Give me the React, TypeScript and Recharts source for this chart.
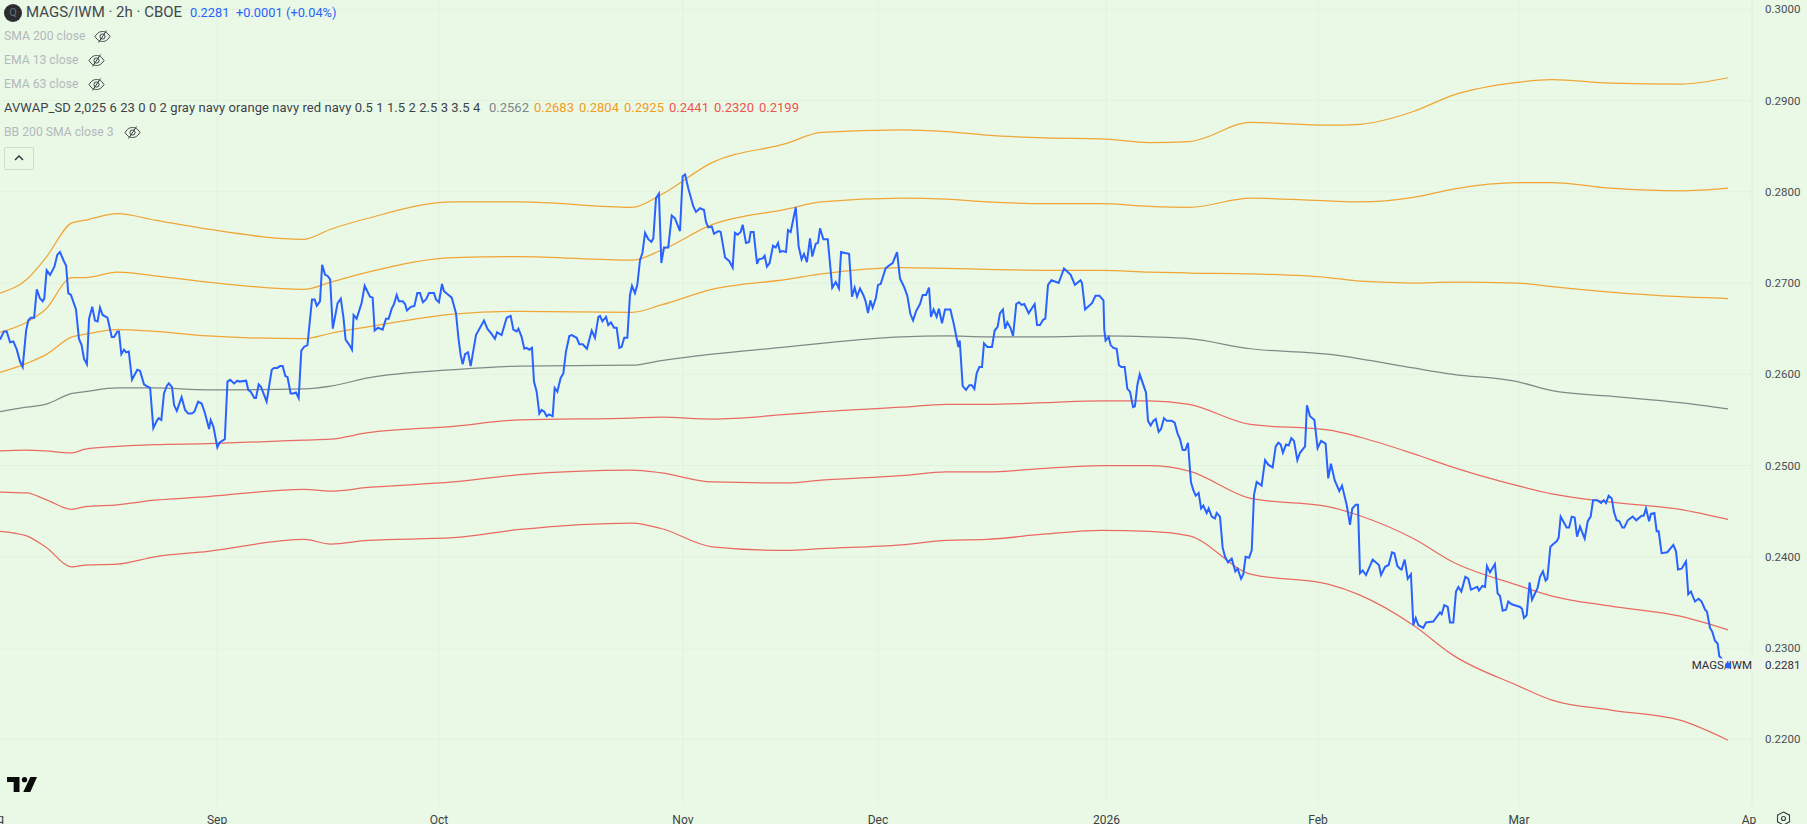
import React from 'react';
import { ComposedChart, Line, XAxis, YAxis, CartesianGrid } from 'recharts';

// Price trace: [bar number on the 2h axis, MAGS/IWM close]
const priceTrace: [number, number][] = [
[0,.2638],[1.5,.2647],[2.5,.2647],[3.8,.2635],[5,.2636],[6.3,.2627],[7.5,.2614],[8.5,.2608],[9.8,.2648],[10.6,.2659],[11.5,.2662],[12.8,.2662],[13.8,.2693],[15,.2683],[16,.268],[16.6,.2683],[17.5,.2714],[18.8,.2709],[20.4,.2718],[21.5,.2731],[22.5,.2734],[23.8,.2725],[24.8,.2719],[25.6,.2689],[26.6,.2687],[28.5,.2671],[29.6,.2639],[30.6,.2632],[31.5,.2617],[32.6,.2611],[33.4,.2661],[34.6,.2674],[35.6,.2659],[36.6,.2658],[37.5,.2673],[38.5,.2665],[40.3,.2662],[41.9,.2641],[42.8,.2641],[44,.2647],[44.6,.2647],[45.5,.2622],[46.5,.2627],[47.3,.2624],[48.3,.2625],[49.5,.2594],[51.5,.2605],[52.5,.2604],[54,.2589],[55,.2587],[56.3,.2585],[57.5,.2541],[58.8,.2549],[59.5,.2552],[60.5,.255],[61.5,.2579],[62.5,.2587],[63.3,.259],[64.5,.2586],[65.3,.2566],[66.3,.256],[68.1,.2575],[69.4,.2561],[70.6,.2557],[71.9,.2557],[72.9,.2559],[74.3,.257],[75.6,.2568],[76.9,.2557],[78.4,.254],[79,.255],[80,.2543],[81.5,.252],[82.3,.2525],[84.3,.2529],[85.3,.2592],[86.3,.2594],[87.8,.259],[89,.2593],[89.8,.2592],[92.3,.2593],[93.1,.2583],[94,.2581],[95.4,.2574],[96,.2574],[97,.2589],[97.9,.2586],[100,.257],[101.9,.2605],[102.8,.2607],[104,.2607],[105,.2609],[106,.2609],[107,.2598],[107.8,.2597],[109,.2579],[110,.2579],[111,.258],[112,.2574],[113,.2626],[114,.263],[115.3,.2632],[117,.2682],[118,.2682],[118.8,.2675],[120,.268],[120.8,.272],[121.9,.2709],[122.8,.2708],[123.8,.2704],[124.8,.265],[126.6,.2678],[127.8,.2683],[128.8,.2662],[129.6,.2638],[131.25,.2631],
[132,.2627],[132.6,.2665],[133.75,.2661],[135.6,.2678],[136.75,.2697],[137.75,.2691],[138.75,.2685],[139.75,.2684],[140.5,.2648],[141.75,.2651],[143.5,.2649],[144.75,.2661],[145.75,.2661],[146.9,.2672],[147.75,.2677],[148.75,.2687],[149.6,.268],[151,.268],[151.9,.2677],[152.6,.267],[154.1,.2674],[155.4,.2675],[156.5,.2689],[157.5,.2689],[158.6,.2679],[159.75,.2682],[160.9,.2689],[162.75,.2689],[163.5,.2682],[164.6,.2679],[165.75,.2699],[166.5,.2691],[167.75,.2688],[169.4,.2684],[171,.2667],[171.9,.264],[172.75,.2621],[173.5,.2611],[174.4,.2622],[175.5,.2624],[176.5,.2609],[178.5,.2643],[181.5,.2659],[182.75,.265],[184.4,.2644],[185.6,.2639],[186.4,.2646],[188.1,.2643],[190,.2662],[191.5,.2664],[192.5,.2649],[193.75,.2647],[194.4,.265],[195.6,.2641],[196.6,.2628],[197.5,.2629],[198.5,.2627],[199.5,.2629],[200.25,.2592],[201.25,.2581],[202.25,.2557],[203.1,.2561],[204.1,.2559],[205,.2554],[205.9,.2556],[207.25,.2554],[208,.2585],[209,.2581],[210.25,.2596],[211.25,.2601],[212.25,.2625],[213.5,.2642],[214.4,.2643],[216.25,.264],[217.25,.2633],[218.5,.2633],[220.1,.2628],[221.9,.2648],[223.1,.264],[224.4,.2663],[225,.2664],[225.9,.2658],[227.25,.2663],[228.1,.2654],[229.1,.2657],[230.25,.2651],[231.25,.2651],[232.25,.2629],[233.1,.263],[234.1,.264],[235.25,.264],[236.25,.2687],[237,.2697],[238.1,.2689],[239,.2698],[240,.2725],[240.9,.2733],[241.9,.2755],[243.1,.2748],[244.25,.2745],[245,.2749],[246,.2793],[247.1,.2798],[248,.2722],[249,.2739],[250.6,.2739],[251.9,.2774],[253.1,.2771],[255,.2757],[256,.2817],[256.9,.2819],[258.1,.2804],[260,.2784],[261,.2778],[262.5,.2782],
[264,.278],[264.75,.2767],[265.6,.2761],[266.9,.2762],[267.75,.2754],[269.4,.2757],[270.25,.2756],[271.9,.2728],[273.5,.2724],[274.75,.2717],[275.6,.2755],[276.6,.2753],[277.75,.2756],[278.5,.2764],[279.75,.2744],[280.9,.2745],[281.5,.2756],[282.6,.2756],[283.9,.2721],[284.6,.2726],[286,.2727],[286.75,.273],[287.6,.2718],[288.6,.2722],[289.9,.2741],[290.9,.2739],[291.75,.2744],[292.5,.2734],[293.5,.2735],[294.75,.2734],[295.5,.2758],[296.5,.2756],[298.4,.2783],[299.5,.274],[300.6,.2726],[301.5,.2732],[302.6,.2723],[303.75,.2749],[304.6,.2729],[305.9,.2743],[306.75,.2744],[307.5,.276],[308.75,.2748],[310.4,.2748],[312.1,.2695],[313.4,.2701],[314.6,.2694],[315.4,.2734],[316.9,.2733],[318.4,.2732],[319.5,.2685],[320.5,.2695],[321.4,.2685],[322.5,.2694],[323.75,.2687],[324.6,.268],[325.5,.2667],[326.4,.2681],[327.25,.2673],[328.4,.2683],[329.25,.2698],[330.25,.2699],[332.1,.2716],[333.75,.272],[334.75,.2722],[336.4,.2734],[337.5,.2705],[339,.2696],[340.25,.2686],[341.4,.2666],[342.4,.2659],[343.5,.2669],[345,.2677],[346,.2687],[347.25,.2687],[348.4,.2695],[349.1,.2663],[350.1,.2671],[351.25,.2663],[352.1,.2672],[353.25,.2656],[354.4,.2671],[356.4,.2671],[357.75,.2654],[359.4,.263],[359.9,.2637],[361,.2587],[362.25,.2583],[363.5,.2588],[364.4,.2588],[365.4,.2584],[366.25,.2601],[367.25,.2608],[368.25,.2608],[369,.2634],[370.25,.263],[372,.263],[373,.2648],[374.1,.2652],[375,.2667],[376.1,.2671],[376.9,.265],[377.75,.2657],[378.9,.2651],[379.9,.2642],[381.1,.2677],[382.1,.2679],[383.1,.2676],[384.1,.2677],[385.75,.2667],[388,.2677],[388.9,.2654],[390,.2654],[391.25,.266],[392,.2661],[393,.2698],
[394.3,.2703],[397,.27],[399,.2716],[401.5,.2709],[403.1,.2698],[405.2,.2703],[405.75,.27],[406.9,.2671],[409.5,.2678],[410.8,.2686],[412.3,.2686],[413.8,.2681],[414.1,.2649],[414.6,.2637],[415.75,.2641],[416.5,.2632],[417.5,.2629],[418.75,.2628],[419.6,.261],[420.5,.2608],[421.75,.2608],[422.75,.2584],[423.75,.2581],[424.9,.2564],[425.6,.2565],[426.5,.2588],[427.4,.26],[429.75,.258],[430.5,.2549],[431.5,.2544],[432.5,.2549],[433.4,.2551],[434.5,.2537],[435.4,.254],[436.5,.2552],[437.5,.2549],[439.4,.2549],[440.5,.2547],[441.6,.2535],[442.5,.2529],[443.5,.2517],[444.5,.2517],[445.5,.2525],[446.6,.2482],[447.5,.2473],[448.4,.2467],[449.5,.247],[450.4,.2453],[451.25,.2456],[452.5,.2448],[453.25,.2453],[454.4,.2444],[455.6,.2442],[456.25,.2448],[457.5,.2444],[458.5,.241],[459.4,.24],[460.5,.2394],[461.9,.2398],[463.25,.2384],[464.1,.2387],[465.4,.2376],[466.25,.2381],[467.1,.24],[468.4,.2399],[469.4,.2407],[470.25,.2468],[471.25,.2482],[473.1,.2478],[474.4,.2506],[475.6,.2501],[477.25,.2498],[478.4,.2521],[479.4,.2525],[480.25,.2523],[481.1,.2514],[482.25,.2523],[483.25,.2522],[484.25,.253],[485.25,.2527],[486.5,.2506],[487.5,.2514],[489.4,.2521],[490.1,.2566],[491.25,.2554],[492.9,.255],[494.1,.2519],[495.4,.2527],[497.1,.2524],[498.1,.2486],[499.1,.2502],[500.5,.2484],[502.25,.2472],[503.25,.2478],[505,.2457],[506.25,.2435],[507.1,.2453],[508.4,.2457],[509.25,.2457],[510,.2382],[511,.2385],[512.25,.238],[514.75,.2397],[517.1,.2391],[517.9,.238],[519.4,.2389],[520.75,.2391],[522,.2405],[522.9,.2404],[524,.239],[525,.2387],
[525.6,.2386],[526.75,.2397],[527.9,.2376],[529.1,.2381],[530,.2325],[530.9,.2333],[531.9,.2325],[533.75,.2322],[534.75,.2328],[537.5,.2329],[540,.2339],[540.6,.2337],[541.6,.2347],[542.9,.2345],[543.75,.2328],[545,.2328],[546,.2362],[546.9,.2367],[548,.2362],[549.5,.2378],[550.6,.2376],[551.6,.2364],[554,.2367],[554.6,.2363],[555.9,.2368],[556.9,.2367],[557.6,.239],[558.75,.2383],[560.6,.2392],[561.6,.236],[562.5,.2357],[563.5,.2341],[564.75,.2342],[565.6,.2351],[566.9,.2348],[570,.2345],[570.75,.2343],[571.5,.2333],[572.5,.2336],[573.6,.2372],[574.5,.2353],[576.6,.2366],[577.5,.2378],[578.6,.2384],[579.6,.2374],[580.25,.2376],[581.4,.2411],[582.5,.2414],[583.75,.2417],[584.5,.2421],[585.25,.2444],[587.5,.2432],[588.4,.2432],[589.4,.2444],[590.5,.2443],[591.4,.2422],[592.5,.2433],[594.25,.242],[595.4,.2439],[596.5,.2444],[597.4,.2462],[599,.2462],[600.4,.2459],[601.4,.2462],[602.25,.2459],[603.25,.2467],[604.4,.2464],[605.25,.2449],[606.25,.244],[607.25,.2439],[608.4,.2432],[609.1,.2432],[610.4,.244],[612.25,.2444],[613.6,.244],[615.6,.2445],[616.4,.2445],[617.25,.2453],[618.4,.2439],[619.1,.2447],[620.4,.2448],[621.25,.2428],[622,.2428],[623.1,.2404],[625.25,.2405],[627.5,.2413],[628.5,.2406],[629.25,.2386],[630.6,.2387],[632.25,.2395],[633.1,.2359],[634.1,.2362],[635.6,.2351],[637,.2354],[638.1,.2351],[639.4,.2342],[640.1,.234],[641.25,.2322],[642.1,.2318],[643.1,.2308],[644.1,.2305],[644.75,.2291],[648,.2281],
];

const lastClose = [{ bar: 648, value: 0.2281 }];

// Anchored VWAP and its bands, read at shared bar numbers
const bandBars = [0,10,17,27,32,44,58,78,114,124,138,170,195,237,248,267,295,308,338,355,370,392,413,431,446,469,498,510,530,545,569,582,604,630,648];
const upper3 = [.2689,.2704,.2727,.2766,.2769,.2776,.2769,.2759,.2748,.2759,.2771,.2789,.2789,.2783,.2797,.2832,.2853,.2865,.2868,.2866,.2862,.2859,.2858,.2854,.2855,.2876,.2873,.2874,.2888,.2906,.292,.2923,.2919,.2918,.2925];
const upper2 = [.2646,.2657,.2671,.2706,.2706,.2712,.2708,.2701,.2693,.2701,.2712,.2728,.2729,.2725,.2736,.2764,.2781,.2789,.2793,.2792,.2789,.2787,.2787,.2784,.2783,.2793,.279,.2789,.2794,.2803,.281,.281,.2804,.2801,.2804];
const upper1 = [.2602,.2612,.2621,.2641,.2644,.2649,.2647,.2642,.2639,.2645,.2652,.2666,.2669,.2668,.2676,.2693,.2704,.271,.2717,.2716,.2715,.2714,.2714,.2712,.2711,.271,.2706,.2702,.27,.2701,.27,.2696,.269,.2685,.2683];
const vwap = [.2559,.2564,.2567,.2579,.2581,.2585,.2585,.2583,.2584,.2587,.2596,.2605,.2609,.261,.2615,.2622,.263,.2634,.2641,.2642,.2641,.2641,.2642,.2641,.2639,.2628,.2622,.2617,.2607,.26,.2592,.2582,.2576,.2569,.2562];
const lower1 = [.2516,.2517,.2516,.2514,.2518,.2521,.2523,.2524,.2528,.2529,.2536,.2543,.255,.2552,.2553,.2551,.2556,.2559,.2564,.2567,.2567,.2569,.2571,.2571,.2567,.2545,.2539,.2531,.2513,.2498,.2478,.2469,.246,.2452,.2441];
const lower2 = [.2471,.247,.2463,.2452,.2455,.2457,.2462,.2466,.2474,.2472,.2476,.2482,.249,.2495,.2492,.2482,.2481,.2484,.2489,.2493,.2493,.2497,.25,.25,.2494,.2464,.2455,.2445,.242,.2394,.2369,.2357,.2346,.2335,.232];
const lower3 = [.2428,.2423,.2411,.2389,.2391,.2392,.24,.2406,.2419,.2414,.2418,.2421,.243,.2437,.2431,.2411,.2407,.2409,.2413,.2418,.2419,.2425,.2429,.2428,.2423,.2381,.237,.2358,.2325,.2292,.2259,.2243,.2232,.2221,.2199];

// Axes
const priceTicks = [0.22, 0.23, 0.24, 0.25, 0.26, 0.27, 0.28, 0.29, 0.3];
const monthTicks = [81.4, 164.6, 256.1, 329.25, 414.9, 494.25, 569.6, 657];
const monthLabels = ['Sep', 'Oct', 'Nov', 'Dec', '2026', 'Feb', 'Mar', 'Ap'];

// Legend text
const legendTitle = 'MAGS/IWM · 2h · CBOE';
const legendQuote = ['0.2281', '+0.0001', '(+0.04%)'];
const avwapTitle = 'AVWAP_SD 2,025 6 23 0 0 2 gray navy orange navy red navy 0.5 1 1.5 2 2.5 3 3.5 4';
const avwapValues = ['0.2562', '0.2683', '0.2804', '0.2925', '0.2441', '0.2320', '0.2199'];

const toRows = (values: number[]) => bandBars.map((bar, i) => ({ bar, value: values[i] }));
const priceRows = priceTrace.map(([bar, value]) => ({ bar, value }));

const FONT = 'Roboto, sans-serif';
const BG = '#E9F9E6';
const BLUE = '#2962FF';
const ORANGE_LINE = '#F0A535';
const RED_LINE = '#EA6A63';
const GRAY_LINE = '#838886';
const ORANGE_TEXT = '#F39C1F';
const RED_TEXT = '#EF5350';
const GRAY_TEXT = '#B4B8BC';

const MonthTick = (props: any) => {
  const { x, y, payload } = props;
  const i = monthTicks.indexOf(payload.value);
  const label = monthLabels[i];
  const shift = label === 'Ap' ? -3 : 0;
  return (
    <text x={x + shift} y={y + 11} textAnchor="middle" fontSize={12} fontFamily={FONT} fill="#3c3f46">
      {label}
    </text>
  );
};

const LastMark = (props: any) => {
  const { cx, cy } = props;
  if (cx == null) return null;
  return (
    <g>
      <rect x={cx - 38} y={cy - 7} width={62} height={13} fill="#EEF6EB" />
      <rect x={cx + 24} y={cy - 7} width={55} height={13} fill="#EEF6EB" />
      <text x={cx + 24} y={cy + 4} textAnchor="end" fontSize={11.5} fontFamily={FONT} fill="#2c2e33">MAGS/IWM</text>
      <text x={cx + 37} y={cy + 4} fontSize={11.5} fontFamily={FONT} fill="#2c2e33">0.2281</text>
      <circle cx={cx} cy={cy} r={3} fill={BLUE} />
    </g>
  );
};

const Eye = ({ x, y }: { x: number; y: number }) => (
  <svg style={{ position: 'absolute', left: x, top: y }} width={17} height={15} viewBox="0 0 17 15" fill="none" stroke="#3a3d44" strokeWidth={1}>
    <path d="M1 7.5C3.5 3.5 6 2.5 8.5 2.5s5 1 7.5 5c-2.5 4-5 5-7.5 5s-5-1-7.5-5Z" />
    <circle cx={8.5} cy={7.5} r={2.6} />
    <path d="M12.5 1.5 4.5 13.5" />
  </svg>
);

const rowStyle = (left: number, top: number, color: string, size = 13, spacing = 0): React.CSSProperties => ({
  position: 'absolute',
  left,
  top,
  color,
  fontSize: size,
  letterSpacing: spacing,
  lineHeight: '16px',
  whiteSpace: 'nowrap',
  fontFamily: FONT,
});

export default function App() {
  const bands: [number[], string][] = [
    [upper3, ORANGE_LINE],
    [upper2, ORANGE_LINE],
    [upper1, ORANGE_LINE],
    [vwap, GRAY_LINE],
    [lower1, RED_LINE],
    [lower2, RED_LINE],
    [lower3, RED_LINE],
  ];
  const quoteX = [190, 236, 286];
  const avwapX = [489, 534, 579, 624, 669, 714, 759];
  const avwapColors = ['#80868B', ORANGE_TEXT, ORANGE_TEXT, ORANGE_TEXT, RED_TEXT, RED_TEXT, RED_TEXT];
  return (
    <div style={{ position: 'absolute', left: 0, top: 0, width: 1807, height: 824, overflow: 'hidden', background: BG }}>
      <ComposedChart width={1807} height={824} margin={{ top: 0, right: 0, bottom: 0, left: 0 }}>
        <CartesianGrid stroke="#E1F2DE" strokeWidth={1} syncWithTicks />
        <XAxis
          xAxisId={0}
          type="number"
          dataKey="bar"
          domain={[0, 657]}
          ticks={monthTicks}
          height={19}
          tick={<MonthTick />}
          tickLine={false}
          axisLine={false}
          interval={0}
        />
        <YAxis
          yAxisId={0}
          orientation="right"
          width={55}
          type="number"
          domain={[0.2128, 0.30102]}
          ticks={priceTicks}
          tickFormatter={(v: number) => v.toFixed(4)}
          tick={{ fill: '#4a4d55', fontSize: 11.5, fontFamily: FONT }}
          tickLine={false}
          tickMargin={7}
          axisLine={{ stroke: '#E1F2DE' }}
          interval={0}
        />
        {bands.map(([values, color], i) => (
          <Line
            key={i}
            data={toRows(values)}
            dataKey="value"
            stroke={color}
            strokeWidth={1.25}
            dot={false}
            activeDot={false}
            type="monotone"
            isAnimationActive={false}
          />
        ))}
        <Line data={priceRows} dataKey="value" stroke={BLUE} strokeWidth={2} dot={false} activeDot={false} type="linear" isAnimationActive={false} />
        <Line data={lastClose} dataKey="value" stroke="none" activeDot={false} dot={(p: any) => <LastMark key="last" {...p} />} isAnimationActive={false} />
      </ComposedChart>

      {/* Legend */}
      <div style={{ position: 'absolute', left: 4, top: 4, width: 18, height: 18, borderRadius: 9, background: '#2a2c30', color: '#6b6e74', fontSize: 11, lineHeight: '18px', textAlign: 'center', fontFamily: FONT }}>Q</div>
      <div style={rowStyle(26, 4, '#43464d', 15)}>{legendTitle}</div>
      {legendQuote.map((t, i) => (
        <div key={t} style={rowStyle(quoteX[i], 5, BLUE, 12.8)}>{t}</div>
      ))}
      <div style={rowStyle(4, 28, GRAY_TEXT, 12.2)}>SMA 200 close</div>
      <Eye x={94} y={29} />
      <div style={rowStyle(4, 52, GRAY_TEXT, 12.2)}>EMA 13 close</div>
      <Eye x={88} y={53} />
      <div style={rowStyle(4, 76, GRAY_TEXT, 12.2)}>EMA 63 close</div>
      <Eye x={88} y={77} />
      <div style={rowStyle(4, 100, '#3f4249', 13, 0.07)}>{avwapTitle}</div>
      {avwapValues.map((t, i) => (
        <div key={i} style={rowStyle(avwapX[i], 100, avwapColors[i])}>{t}</div>
      ))}
      <div style={rowStyle(4, 124, GRAY_TEXT, 12.2)}>BB 200 SMA close 3</div>
      <Eye x={124} y={125} />
      <div style={{ position: 'absolute', left: 4, top: 147, width: 28, height: 21, border: '1px solid #CFDCCC', borderRadius: 2 }}>
        <svg width={28} height={21} viewBox="0 0 28 21" fill="none" stroke="#2c2e33" strokeWidth={1.4}>
          <path d="M10 12l4-4 4 4" />
        </svg>
      </div>

      {/* Bottom marks */}
      <svg style={{ position: 'absolute', left: 7, top: 777 }} width={30} height={15} viewBox="0 0 36 18" fill="#0b0b0b">
        <path d="M0 0H15V18H8V6H0Z" />
        <circle cx={21} cy={3.2} r={3.2} />
        <path d="M28 0H36L28 18H19.5Z" />
      </svg>
      <div style={{ position: 'absolute', left: -19, top: 811, fontSize: 12, lineHeight: '16px', width: 23, textAlign: 'right', fontFamily: FONT, color: '#3c3f46' }}>Aug</div>
      <svg style={{ position: 'absolute', left: 1776, top: 811 }} width={15} height={15} viewBox="0 0 15 15" fill="none" stroke="#3a3d44" strokeWidth={1.1}>
        <path d="M7.5 1 13.5 4.2V10.8L7.5 14 1.5 10.8V4.2Z" />
        <circle cx={7.5} cy={7.5} r={2} />
      </svg>
    </div>
  );
}
